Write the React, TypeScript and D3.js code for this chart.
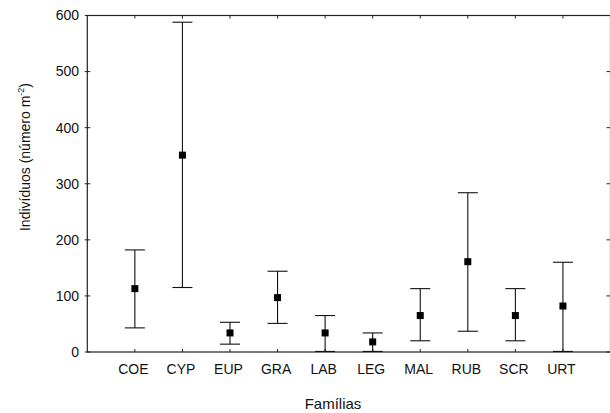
import React from "react";
import * as d3 from "d3";

const categories = ["COE", "CYP", "EUP", "GRA", "LAB", "LEG", "MAL", "RUB", "SCR", "URT"];
const means = [113, 351, 34, 97, 34, 18, 65, 161, 65, 82];
const upper = [182, 588, 53, 144, 65, 34, 113, 284, 113, 160];
const lower = [43, 115, 14, 51, 1, 1, 20, 37, 20, 1];
const yTicks = [0, 100, 200, 300, 400, 500, 600];

const W = 610;
const H = 413;
const FONT = "'Liberation Sans', Arial, sans-serif";

export default function App() {
  const x = d3.scaleLinear().domain([0, categories.length + 1]).range([87.3, 610.5]);
  const y = d3.scaleLinear().domain([0, 600]).range([352, 15.5]);
  const [x0, x1] = x.range();
  const [yb, yt] = y.range();
  const cap = 10;
  const ms = 7;
  const tl = 3;

  return (
    <svg
      width={W}
      height={H}
      style={{ position: "absolute", left: 0, top: 0, background: "#fff" }}
      fontFamily={FONT}
    >
      <rect x={0} y={0} width={W} height={H} fill="#fff" />
      {/* frame */}
      <rect x={x0} y={yt} width={x1 - x0} height={yb - yt} fill="none" stroke="#222" strokeWidth={1.2} />
      {/* y ticks */}
      {yTicks.map((t) => (
        <g key={"yt" + t}>
          <line x1={x0 - 2.5} x2={x0 + tl} y1={y(t)} y2={y(t)} stroke="#222" strokeWidth={1} />
          <line x1={x1 - tl - 1} x2={x1} y1={y(t)} y2={y(t)} stroke="#222" strokeWidth={1} />
          <text x={79} y={y(t)} dy="0.35em" textAnchor="end" fontSize={14} fill="#111">
            {t}
          </text>
        </g>
      ))}
      {/* x ticks and labels */}
      {categories.map((c, i) => (
        <g key={"xt" + c}>
          <line x1={x(i + 1)} x2={x(i + 1)} y1={yb} y2={yb - tl} stroke="#222" strokeWidth={1} />
          <line x1={x(i + 1)} x2={x(i + 1)} y1={yt} y2={yt + tl} stroke="#222" strokeWidth={1} />
          <text x={x(i + 1) - 1.5} y={374} textAnchor="middle" fontSize={14} fill="#111">
            {c}
          </text>
        </g>
      ))}
      {/* error bars */}
      {categories.map((c, i) => {
        const cx = x(i + 1);
        return (
          <g key={"eb" + c}>
            <line x1={cx} x2={cx} y1={y(upper[i])} y2={y(lower[i])} stroke="#111" strokeWidth={1.1} />
            <line x1={cx - cap} x2={cx + cap} y1={y(upper[i])} y2={y(upper[i])} stroke="#111" strokeWidth={1.1} />
            <line x1={cx - cap} x2={cx + cap} y1={y(lower[i])} y2={y(lower[i])} stroke="#111" strokeWidth={1.1} />
            <rect x={cx - ms / 2} y={y(means[i]) - ms / 2} width={ms} height={ms} fill="#000" />
          </g>
        );
      })}
      {/* axis titles */}
      <text x={333} y={409} textAnchor="middle" fontSize={15} fill="#111">
        Famílias
      </text>
      <text
        transform={`translate(30,157) rotate(-90)`}
        textAnchor="middle"
        fontSize={14}
        fill="#111"
      >
        Indivíduos (número m
        <tspan fontSize={9} dy={-6}>-2</tspan>
        <tspan dy={6}>)</tspan>
      </text>
    </svg>
  );
}
